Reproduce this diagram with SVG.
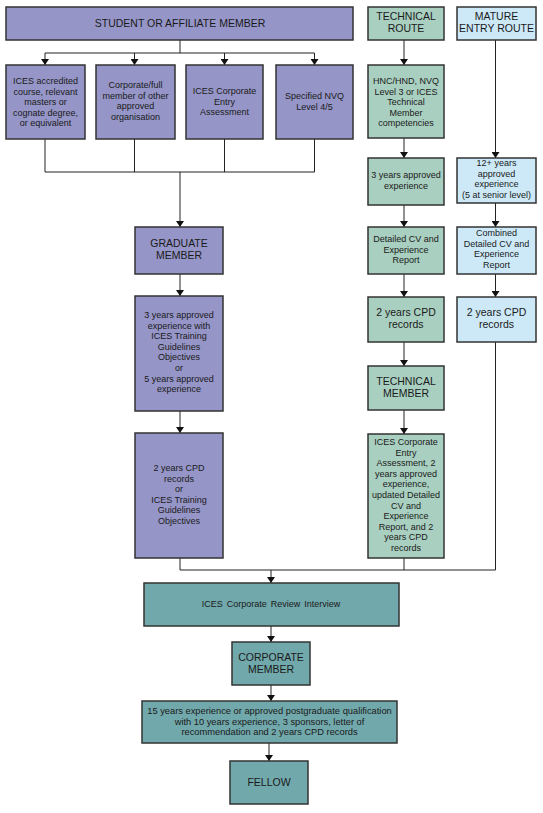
<svg xmlns="http://www.w3.org/2000/svg" width="543" height="813" viewBox="0 0 543 813">
<defs>
<marker id="ah" viewBox="0 0 6 8" refX="6" refY="4" markerWidth="6" markerHeight="8" orient="auto" markerUnits="userSpaceOnUse">
<path d="M0,0 L6,4 L0,8 Z" fill="#111"/>
</marker>
<style>
.b{stroke:#333;stroke-width:1.5}
.p{fill:#9595c7}
.g{fill:#a9cfc0}
.m{fill:#cde9f8}
.t{fill:#71a8ab}
text{font-family:"Liberation Sans",Arial,sans-serif;fill:#1a1a1a;text-anchor:middle}
.s{font-size:9px}
.h{font-size:10.5px}
.c{fill:none;stroke:#222;stroke-width:1}
</style>
</defs>
<rect width="543" height="813" fill="#fff"/>
<g id="connectors">
<path class="c" d="M180,40 V53 M45,53 H314.5"/>
<line class="c" x1="45" y1="53" x2="45" y2="65" marker-end="url(#ah)"/>
<line class="c" x1="134.5" y1="53" x2="134.5" y2="65" marker-end="url(#ah)"/>
<line class="c" x1="224.5" y1="53" x2="224.5" y2="65" marker-end="url(#ah)"/>
<line class="c" x1="314.5" y1="53" x2="314.5" y2="65" marker-end="url(#ah)"/>
<path class="c" d="M45,139 V172 M134.5,139 V172 M224.5,139 V172 M314.5,139 V172 M45,172 H314.5"/>
<line class="c" x1="180" y1="172" x2="180" y2="227" marker-end="url(#ah)"/>
<line class="c" x1="180" y1="274" x2="180" y2="296" marker-end="url(#ah)"/>
<line class="c" x1="180" y1="411" x2="180" y2="433" marker-end="url(#ah)"/>
<line class="c" x1="404" y1="40" x2="404" y2="65" marker-end="url(#ah)"/>
<line class="c" x1="404" y1="138" x2="404" y2="158" marker-end="url(#ah)"/>
<line class="c" x1="404" y1="205" x2="404" y2="227" marker-end="url(#ah)"/>
<line class="c" x1="404" y1="274" x2="404" y2="297" marker-end="url(#ah)"/>
<line class="c" x1="404" y1="342" x2="404" y2="366" marker-end="url(#ah)"/>
<line class="c" x1="404" y1="410" x2="404" y2="434" marker-end="url(#ah)"/>
<line class="c" x1="495.5" y1="40" x2="495.5" y2="158" marker-end="url(#ah)"/>
<line class="c" x1="495.5" y1="203" x2="495.5" y2="227" marker-end="url(#ah)"/>
<line class="c" x1="495.5" y1="274" x2="495.5" y2="297" marker-end="url(#ah)"/>
<path class="c" d="M180,558 V570 H495.5 V342 M404,558 V570"/>
<line class="c" x1="271" y1="570" x2="271" y2="583" marker-end="url(#ah)"/>
<line class="c" x1="271" y1="626" x2="271" y2="642" marker-end="url(#ah)"/>
<line class="c" x1="271" y1="685" x2="271" y2="701" marker-end="url(#ah)"/>
<line class="c" x1="269" y1="743" x2="269" y2="761" marker-end="url(#ah)"/>
</g>
<g id="student">
<rect class="b p" x="6" y="7" width="347" height="33"/>
<text class="h" x="180" y="27">STUDENT OR AFFILIATE MEMBER</text>
</g>
<g id="ices-course">
<rect class="b p" x="6" y="65" width="79" height="74"/>
<text class="s" x="45.5" y="84">ICES accredited</text>
<text class="s" x="45.5" y="94.6">course, relevant</text>
<text class="s" x="45.5" y="105.2">masters or</text>
<text class="s" x="45.5" y="115.8">cognate degree,</text>
<text class="s" x="45.5" y="126.4">or equivalent</text>
</g>
<g id="corporate-full">
<rect class="b p" x="96" y="65" width="79" height="74"/>
<text class="s" x="135.5" y="88">Corporate/full</text>
<text class="s" x="135.5" y="98.6">member of other</text>
<text class="s" x="135.5" y="109.2">approved</text>
<text class="s" x="135.5" y="119.8">organisation</text>
</g>
<g id="ices-cea">
<rect class="b p" x="186" y="65" width="77" height="74"/>
<text class="s" x="224.5" y="94">ICES Corporate</text>
<text class="s" x="224.5" y="104.6">Entry</text>
<text class="s" x="224.5" y="115.2">Assessment</text>
</g>
<g id="nvq">
<rect class="b p" x="276" y="65" width="77" height="74"/>
<text class="s" x="314.5" y="99">Specified NVQ</text>
<text class="s" x="314.5" y="109.6">Level 4/5</text>
</g>
<g id="graduate">
<rect class="b p" x="135" y="227" width="88" height="47"/>
<text class="h" x="179" y="247">GRADUATE</text>
<text class="h" x="179" y="259">MEMBER</text>
</g>
<g id="grad-exp">
<rect class="b p" x="135" y="296" width="88" height="115"/>
<text class="s" x="179" y="318">3 years approved</text>
<text class="s" x="179" y="328.6">experience with</text>
<text class="s" x="179" y="339.2">ICES Training</text>
<text class="s" x="179" y="349.8">Guidelines</text>
<text class="s" x="179" y="360.4">Objectives</text>
<text class="s" x="179" y="371">or</text>
<text class="s" x="179" y="381.6">5 years approved</text>
<text class="s" x="179" y="392.2">experience</text>
</g>
<g id="grad-cpd">
<rect class="b p" x="135" y="433" width="88" height="125"/>
<text class="s" x="179" y="471">2 years CPD</text>
<text class="s" x="179" y="481.6">records</text>
<text class="s" x="179" y="492.2">or</text>
<text class="s" x="179" y="502.8">ICES Training</text>
<text class="s" x="179" y="513.4">Guidelines</text>
<text class="s" x="179" y="524">Objectives</text>
</g>
<g id="technical-route">
<rect class="b g" x="368" y="7" width="76" height="33"/>
<text class="h" x="406" y="20">TECHNICAL</text>
<text class="h" x="406" y="32">ROUTE</text>
</g>
<g id="hnc">
<rect class="b g" x="368" y="65" width="76" height="73"/>
<text class="s" x="406" y="84">HNC/HND, NVQ</text>
<text class="s" x="406" y="94.6">Level 3 or ICES</text>
<text class="s" x="406" y="105.2">Technical</text>
<text class="s" x="406" y="115.8">Member</text>
<text class="s" x="406" y="126.4">competencies</text>
</g>
<g id="tech-exp">
<rect class="b g" x="368" y="158" width="76" height="47"/>
<text class="s" x="406" y="178">3 years approved</text>
<text class="s" x="406" y="188.6">experience</text>
</g>
<g id="tech-cv">
<rect class="b g" x="368" y="227" width="76" height="47"/>
<text class="s" x="406" y="242">Detailed CV and</text>
<text class="s" x="406" y="252.6">Experience</text>
<text class="s" x="406" y="263.2">Report</text>
</g>
<g id="tech-cpd">
<rect class="b g" x="368" y="297" width="76" height="45"/>
<text class="h" x="406" y="316">2 years CPD</text>
<text class="h" x="406" y="328">records</text>
</g>
<g id="technical-member">
<rect class="b g" x="368" y="366" width="76" height="44"/>
<text class="h" x="406" y="385">TECHNICAL</text>
<text class="h" x="406" y="397">MEMBER</text>
</g>
<g id="tech-cea">
<rect class="b g" x="368" y="434" width="76" height="124"/>
<text class="s" x="406" y="445">ICES Corporate</text>
<text class="s" x="406" y="455.6">Entry</text>
<text class="s" x="406" y="466.2">Assessment, 2</text>
<text class="s" x="406" y="476.8">years approved</text>
<text class="s" x="406" y="487.4">experience,</text>
<text class="s" x="406" y="498">updated Detailed</text>
<text class="s" x="406" y="508.6">CV and</text>
<text class="s" x="406" y="519.2">Experience</text>
<text class="s" x="406" y="529.8">Report, and 2</text>
<text class="s" x="406" y="540.4">years CPD</text>
<text class="s" x="406" y="551">records</text>
</g>
<g id="mature-route">
<rect class="b m" x="457" y="7" width="79" height="33"/>
<text class="h" x="496.5" y="20">MATURE</text>
<text class="h" x="496.5" y="32">ENTRY ROUTE</text>
</g>
<g id="mature-exp">
<rect class="b m" x="457" y="158" width="79" height="45"/>
<text class="s" x="496.5" y="166">12+ years</text>
<text class="s" x="496.5" y="176.6">approved</text>
<text class="s" x="496.5" y="187.2">experience</text>
<text class="s" x="496.5" y="197.8">(5 at senior level)</text>
</g>
<g id="mature-cv">
<rect class="b m" x="457" y="227" width="79" height="47"/>
<text class="s" x="496.5" y="236">Combined</text>
<text class="s" x="496.5" y="246.6">Detailed CV and</text>
<text class="s" x="496.5" y="257.2">Experience</text>
<text class="s" x="496.5" y="267.8">Report</text>
</g>
<g id="mature-cpd">
<rect class="b m" x="457" y="297" width="79" height="45"/>
<text class="h" x="496.5" y="316">2 years CPD</text>
<text class="h" x="496.5" y="328">records</text>
</g>
<g id="review">
<rect class="b t" x="144" y="583" width="255" height="43"/>
<text class="s" x="271" y="607" word-spacing="1.5">ICES Corporate Review Interview</text>
</g>
<g id="corporate-member">
<rect class="b t" x="232" y="642" width="78" height="43"/>
<text class="h" x="271" y="661">CORPORATE</text>
<text class="h" x="271" y="673">MEMBER</text>
</g>
<g id="fellow-req">
<rect class="b t" x="142" y="701" width="255" height="42"/>
<text x="269.5" y="714" font-size="9.3">15 years experience or approved postgraduate qualification</text>
<text x="269.5" y="724.6" font-size="9.3">with 10 years experience, 3 sponsors, letter of</text>
<text x="269.5" y="735.2" font-size="9.3">recommendation and 2 years CPD records</text>
</g>
<g id="fellow">
<rect class="b t" x="230" y="761" width="78" height="43"/>
<text class="h" x="269" y="786">FELLOW</text>
</g>
</svg>
